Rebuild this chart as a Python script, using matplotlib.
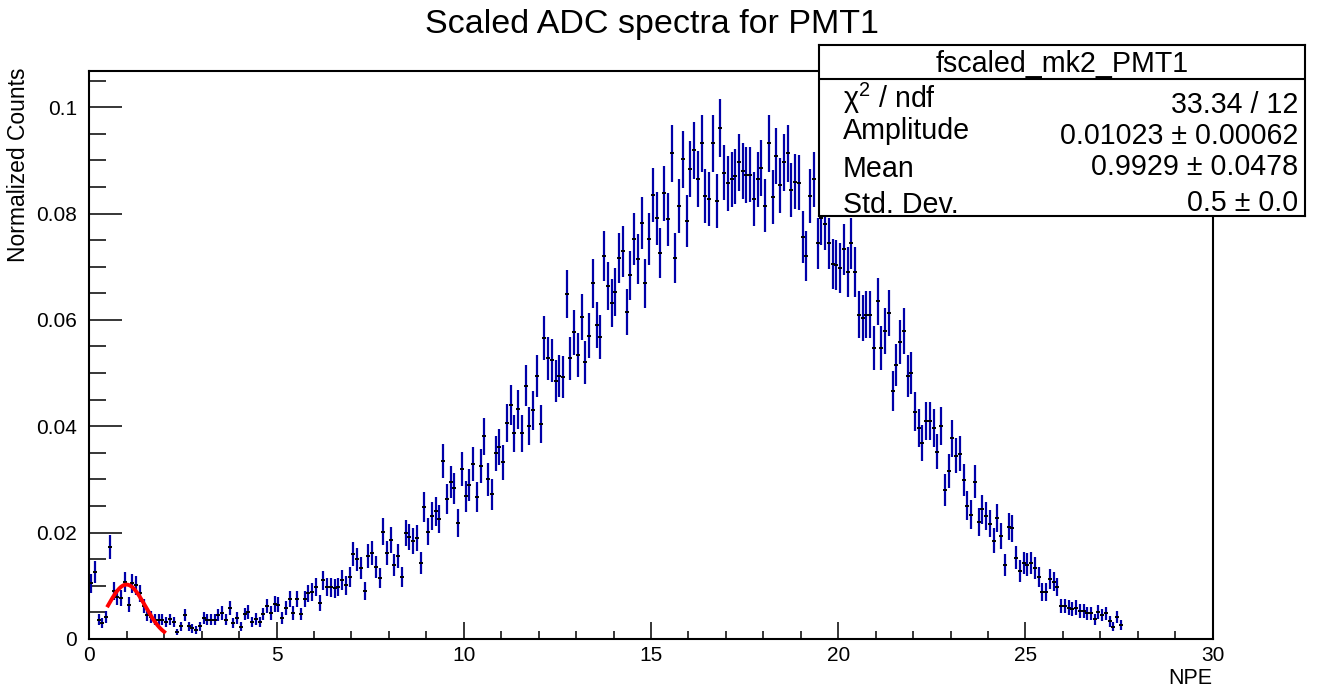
import numpy as np
import matplotlib
matplotlib.use("Agg")
import matplotlib.pyplot as plt
from matplotlib.ticker import MultipleLocator, FuncFormatter

plt.rcParams["font.family"] = ["Liberation Sans", "DejaVu Sans"]
plt.rcParams["mathtext.fontset"] = "custom"
plt.rcParams["mathtext.rm"] = "Liberation Sans"
plt.rcParams["mathtext.it"] = "Liberation Sans:italic"

# scaled ADC spectrum, 0.1 NPE bins starting at 0
bin_lo = 0.0
bin_width = 0.1
counts = [
    0.0105, 0.0126, 0.0036, 0.0030, 0.0041, 0.0173, 0.0090, 0.0079, 0.0077, 0.0107,
    0.0064, 0.0105, 0.0101, 0.0086, 0.0062, 0.0045, 0.0041, 0.0036, 0.0036, 0.0036,
    0.0032, 0.0037, 0.0032, 0.0013, 0.0024, 0.0045, 0.0024, 0.0020, 0.0017, 0.0024,
    0.0039, 0.0036, 0.0036, 0.0036, 0.0045, 0.0049, 0.0036, 0.0058, 0.0030, 0.0039,
    0.0023, 0.0047, 0.0051, 0.0032, 0.0038, 0.0032, 0.0047, 0.0062, 0.0049, 0.0066,
    0.0064, 0.0039, 0.0058, 0.0075, 0.0049, 0.0075, 0.0047, 0.0075, 0.0086, 0.0088,
    0.0098, 0.0068, 0.0110, 0.0098, 0.0097, 0.0095, 0.0098, 0.0111, 0.0101, 0.0117,
    0.0160, 0.0150, 0.0133, 0.0090, 0.0156, 0.0162, 0.0136, 0.0114, 0.0202, 0.0162,
    0.0186, 0.0139, 0.0156, 0.0117, 0.0199, 0.0192, 0.0184, 0.0190, 0.0143, 0.0248,
    0.0202, 0.0231, 0.0240, 0.0225, 0.0335, 0.0263, 0.0295, 0.0283, 0.0218, 0.0320,
    0.0268, 0.0289, 0.0329, 0.0267, 0.0325, 0.0381, 0.0300, 0.0272, 0.0349, 0.0361,
    0.0332, 0.0406, 0.0440, 0.0387, 0.0432, 0.0387, 0.0476, 0.0400, 0.0430, 0.0494,
    0.0404, 0.0566, 0.0528, 0.0524, 0.0485, 0.0494, 0.0492, 0.0648, 0.0528, 0.0577,
    0.0534, 0.0605, 0.0520, 0.0570, 0.0669, 0.0590, 0.0568, 0.0720, 0.0664, 0.0632,
    0.0652, 0.0716, 0.0729, 0.0615, 0.0684, 0.0752, 0.0714, 0.0782, 0.0669, 0.0752,
    0.0835, 0.0791, 0.0726, 0.0838, 0.0789, 0.0913, 0.0716, 0.0814, 0.0902, 0.0786,
    0.0883, 0.0919, 0.0865, 0.0932, 0.0833, 0.0827, 0.0932, 0.0824, 0.0961, 0.0877,
    0.0857, 0.0864, 0.0870, 0.0896, 0.0880, 0.0872, 0.0873, 0.0828, 0.0864, 0.0886,
    0.0815, 0.0932, 0.0831, 0.0908, 0.0853, 0.0896, 0.0913, 0.0844, 0.0860, 0.0858,
    0.0756, 0.0720, 0.0833, 0.0864, 0.0744, 0.0791, 0.0781, 0.0744, 0.0706, 0.0703,
    0.0698, 0.0733, 0.0690, 0.0744, 0.0690, 0.0610, 0.0603, 0.0610, 0.0610, 0.0548,
    0.0635, 0.0548, 0.0579, 0.0613, 0.0466, 0.0515, 0.0558, 0.0579, 0.0495, 0.0501,
    0.0427, 0.0397, 0.0368, 0.0410, 0.0410, 0.0397, 0.0352, 0.0400, 0.0280, 0.0316,
    0.0377, 0.0345, 0.0348, 0.0299, 0.0251, 0.0234, 0.0296, 0.0220, 0.0244, 0.0231,
    0.0217, 0.0185, 0.0228, 0.0194, 0.0139, 0.0211, 0.0208, 0.0153, 0.0128, 0.0143,
    0.0140, 0.0143, 0.0134, 0.0117, 0.0089, 0.0089, 0.0113, 0.0108, 0.0098, 0.0062,
    0.0062, 0.0059, 0.0056, 0.0059, 0.0053, 0.0053, 0.0048, 0.0048, 0.0037, 0.0051,
    0.0045, 0.0048, 0.0033, 0.0023, 0.0042, 0.0026,
]
# entries used for the scaling: error per bin is sqrt(N)/N
n_entries = 3200

# gaus fit result, drawn on its fit range
fit_amp = 0.01023
fit_mean = 0.9929
fit_sigma = 0.5
fit_range = (0.5, 2.0)

stats_title = "fscaled_mk2_PMT1"
stats_names = ["\u03c7$^{2}$ / ndf", "Amplitude", "Mean", "Std. Dev."]
stats_values = ["33.34 / 12", "0.01023 \u00b1 0.00062", "0.9929 \u00b1 0.0478", "0.5 \u00b1 0.0"]

W, H = 1328, 692


def fx(px):
    return px / W


def fy(py):
    return 1 - py / H


y = np.array(counts)
x = bin_lo + bin_width * (np.arange(len(y)) + 0.5)
yerr = np.sqrt(y / n_entries)

fig = plt.figure(figsize=(W / 100, H / 100), dpi=100)
ax = fig.add_axes([fx(89.3), fy(639), (1212.7 - 89.3) / W, (639 - 71) / H])

ax.errorbar(x, y, yerr=yerr, fmt="none", ecolor="#0000a8", elinewidth=1.6, capsize=0, zorder=2)
ax.plot(x, y, ls="none", marker="_", ms=2.6, mew=1.4, color="black", zorder=3)

xf = np.linspace(fit_range[0], fit_range[1], 200)
yf = fit_amp * np.exp(-0.5 * ((xf - fit_mean) / fit_sigma) ** 2)
ax.plot(xf, yf, color="red", lw=2.8, zorder=4)

ax.set_xlim(0, 30)
ax.set_ylim(0, 0.1068)
ax.xaxis.set_major_locator(MultipleLocator(5))
ax.xaxis.set_minor_locator(MultipleLocator(1))
ax.yaxis.set_major_locator(MultipleLocator(0.02))
ax.yaxis.set_minor_locator(MultipleLocator(0.005))
ax.yaxis.set_major_formatter(FuncFormatter(lambda v, p: f"{v:g}"))
ax.xaxis.set_major_formatter(FuncFormatter(lambda v, p: f"{v:g}"))

ax.tick_params(axis="x", which="major", direction="in", length=12, width=1.1, pad=5, labelsize=15, top=False)
ax.tick_params(axis="x", which="minor", direction="in", length=5.8, width=1.1, top=False)
ax.tick_params(axis="y", which="major", direction="in", length=23.8, width=1.1, pad=9, labelsize=15, right=False)
ax.tick_params(axis="y", which="minor", direction="in", length=12.2, width=1.1, right=False)
for s in ax.spines.values():
    s.set_linewidth(1.5)

fig.text(fx(652), fy(33), "Scaled ADC spectra for PMT1", ha="center", va="baseline", fontsize=24.5)
fig.text(fx(19), fy(68), "Normalized Counts", rotation=90, ha="center", va="top", fontsize=16.5)
fig.text(fx(1212), fy(679), "NPE", ha="right", va="center", fontsize=15.5)

# fit stats box
bx = fig.add_axes([fx(819), fy(215.7), (1305 - 819) / W, (215.7 - 45) / H])
bx.set_xticks([])
bx.set_yticks([])
bx.set_xlim(0, 1)
bx.set_ylim(0, 1)
bx.set_facecolor("white")
for s in bx.spines.values():
    s.set_linewidth(1.5)
bx.axhline((215.7 - 79.3) / (215.7 - 45), color="black", lw=1.5)

fig.text(fx(1062), fy(71.7), stats_title, ha="center", va="baseline", fontsize=20.6)
name_base = [108.3, 139.3, 177.3, 213.0]
value_base = [112.7, 144.0, 175.0, 210.7]
for name, nb in zip(stats_names, name_base):
    fig.text(fx(843), fy(nb), name, ha="left", va="baseline", fontsize=20.6)
for val, vb in zip(stats_values, value_base):
    fig.text(fx(1298), fy(vb), val, ha="right", va="baseline", fontsize=20.6)

fig.savefig("out.png", dpi=100)
